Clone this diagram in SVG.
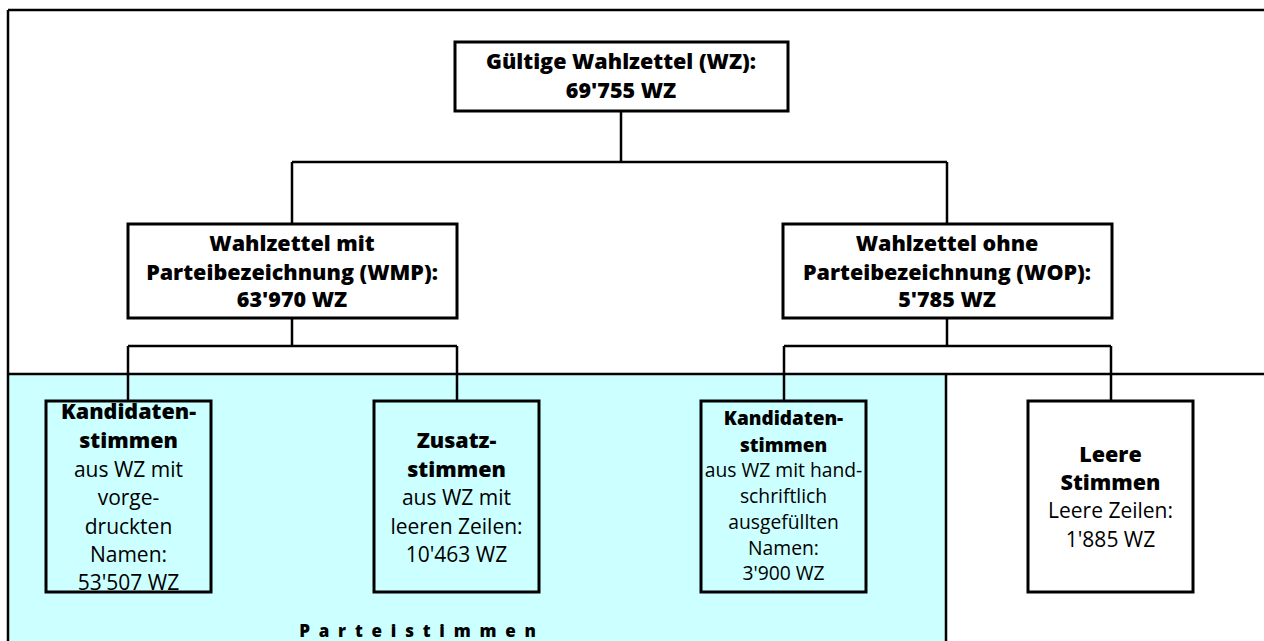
<svg xmlns="http://www.w3.org/2000/svg" width="1264" height="641" viewBox="0 0 1264 641">
<style>
.box{fill:#fff;stroke:#000;stroke-width:3}
.cbox{fill:#ccffff;stroke:#000;stroke-width:3}
.ln{stroke:#000;stroke-width:2.5;fill:none}
text{font-family:"Open Sans","Noto Sans",sans-serif;fill:#000;text-anchor:middle}
.b{font-weight:800;font-size:21.5px}
.r{font-size:21px}
.bs{font-weight:800;font-size:19px}
.rs{font-size:19.3px}
</style>
<rect x="0" y="0" width="1264" height="641" fill="#fff"/>
<g id="frame">
<rect x="8" y="374" width="938" height="270" fill="#ccffff"/>
<path class="ln" d="M8 10H1264M8 10V641M8 374H1264M946 374V641"/>
<text x="422" y="637" font-family="Open Sans" font-weight="800" font-size="17" letter-spacing="8.8">Parteistimmen</text>
</g>
<g id="connectors">
<path class="ln" d="M621 111V162M292 162H947M292 162V224M947 162V224"/>
<path class="ln" d="M292 318V346M128 346H457M128 346V401M457 346V401"/>
<path class="ln" d="M947 318V346M784 346H1111M784 346V401M1111 346V401"/>
</g>
<g id="root">
<rect class="box" x="455" y="42" width="333" height="69"/>
<text class="b" x="621" y="69">Gültige Wahlzettel (WZ):</text>
<text class="b" x="621" y="98">69'755 WZ</text>
</g>
<g id="wmp">
<rect class="box" x="128" y="224" width="329" height="94"/>
<text class="b" x="292" y="251">Wahlzettel mit</text>
<text class="b" x="292" y="280">Parteibezeichnung (WMP):</text>
<text class="b" x="292" y="307">63'970 WZ</text>
</g>
<g id="wop">
<rect class="box" x="783" y="224" width="329" height="94"/>
<text class="b" x="947" y="251">Wahlzettel ohne</text>
<text class="b" x="947" y="280">Parteibezeichnung (WOP):</text>
<text class="b" x="947" y="307">5'785 WZ</text>
</g>
<g id="kand1">
<rect class="cbox" x="46" y="401" width="165" height="191"/>
<text class="b" x="128.5" y="419">Kandidaten-</text>
<text class="b" x="128.5" y="448">stimmen</text>
<text class="r" x="128.5" y="477">aus WZ mit</text>
<text class="r" x="128.5" y="505">vorge-</text>
<text class="r" x="128.5" y="534">druckten</text>
<text class="r" x="128.5" y="562">Namen:</text>
<text class="r" x="128.5" y="590">53'507 WZ</text>
</g>
<g id="zusatz">
<rect class="cbox" x="374" y="401" width="165" height="191"/>
<text class="b" x="456.5" y="448">Zusatz-</text>
<text class="b" x="456.5" y="477">stimmen</text>
<text class="r" x="456.5" y="505">aus WZ mit</text>
<text class="r" x="456.5" y="534">leeren Zeilen:</text>
<text class="r" x="456.5" y="562">10'463 WZ</text>
</g>
<g id="kand2">
<rect class="cbox" x="701" y="401" width="165" height="191"/>
<text class="bs" x="783.5" y="425">Kandidaten-</text>
<text class="bs" x="783.5" y="452">stimmen</text>
<text class="rs" x="783.5" y="477">aus WZ mit hand-</text>
<text class="rs" x="783.5" y="503">schriftlich</text>
<text class="rs" x="783.5" y="529">ausgefüllten</text>
<text class="rs" x="783.5" y="555">Namen:</text>
<text class="rs" x="783.5" y="580">3'900 WZ</text>
</g>
<g id="leere">
<rect class="box" x="1028" y="401" width="165" height="191"/>
<text class="b" x="1110.5" y="462">Leere</text>
<text class="b" x="1110.5" y="490">Stimmen</text>
<text class="r" x="1110.5" y="518">Leere Zeilen:</text>
<text class="r" x="1110.5" y="547">1'885 WZ</text>
</g>
</svg>
